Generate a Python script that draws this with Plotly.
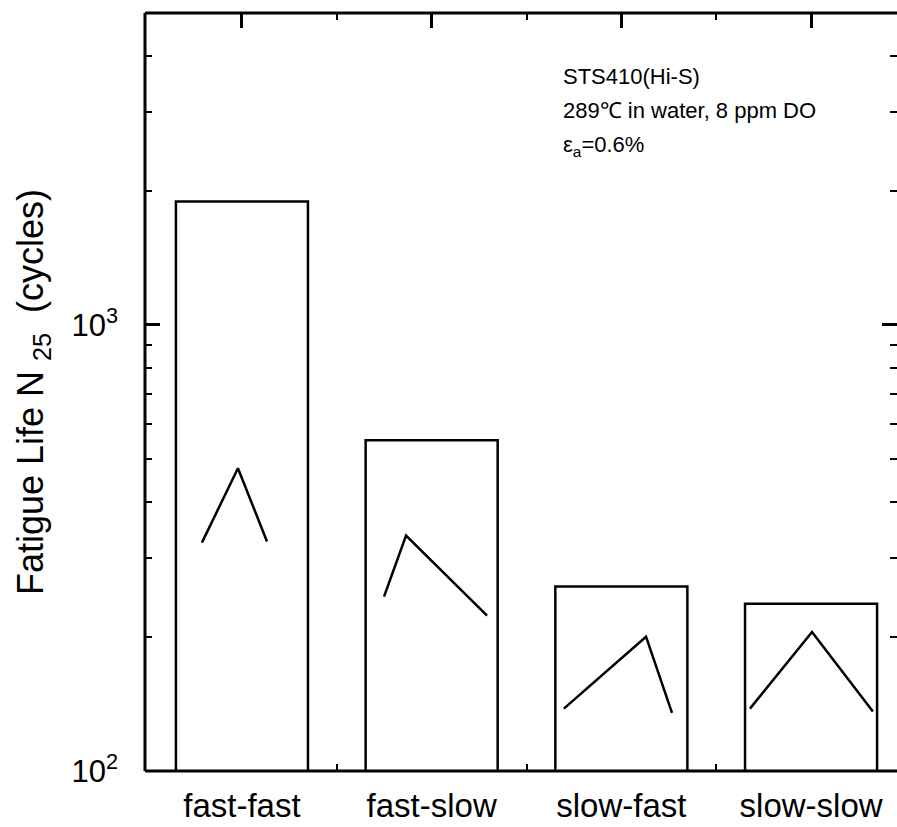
import plotly.graph_objects as go

# Fatigue life at 289 °C in water by loading waveform
categories = ["fast-fast", "fast-slow", "slow-fast", "slow-slow"]
fatigue_life = [1890, 551, 259, 237]

# Waveform sketches drawn inside each bar (x in category units, y in cycles)
wave_ff_x = [-0.211, -0.021, 0.132]
wave_ff_y = [325, 477, 327]
wave_fs_x = [0.749, 0.865, 1.292]
wave_fs_y = [246, 337, 223]
wave_sf_x = [1.697, 2.130, 2.267]
wave_sf_y = [138, 200, 135]
wave_ss_x = [2.678, 3.005, 3.326]
wave_ss_y = [138, 205, 136]

y_major = [100, 1000]
y_major_text = ["10<sup>2</sup>", "10<sup>3</sup>"]
y_minor = [200, 300, 400, 500, 600, 700, 800, 900, 2000, 3000, 4000, 5000]
x_minor = [0.5, 1.5, 2.5]

note_lines = ["STS410(Hi-S)", "289\u2103 in water, 8 ppm DO", "\u03b5<sub>a</sub>=0.6%"]

FONT = "Liberation Sans, Arial, sans-serif"

fig = go.Figure()

fig.add_trace(go.Bar(
    x=list(range(len(categories))),
    y=fatigue_life,
    width=0.696,
    marker=dict(color="white", line=dict(color="black", width=2.5)),
    showlegend=False,
))

for wx, wy in [(wave_ff_x, wave_ff_y), (wave_fs_x, wave_fs_y),
               (wave_sf_x, wave_sf_y), (wave_ss_x, wave_ss_y)]:
    fig.add_trace(go.Scatter(
        x=wx, y=wy, mode="lines",
        line=dict(color="black", width=2.5),
        showlegend=False, hoverinfo="skip",
    ))

fig.update_xaxes(
    range=[-0.511, 3.453],
    tickvals=list(range(len(categories))),
    ticktext=categories,
    ticks="inside", ticklen=15, tickwidth=2.5, tickcolor="black",
    mirror="ticks", showline=False, showgrid=False, zeroline=False,
    minor=dict(tickvals=x_minor, ticks="inside", ticklen=7, tickwidth=2, tickcolor="black"),
    layer="below traces",
    tickfont=dict(family=FONT, size=33, color="black"),
    ticklabelstandoff=12,
)

fig.update_yaxes(
    type="log",
    range=[2, 3.699],
    tickvals=y_major,
    ticktext=y_major_text,
    ticks="inside", ticklen=15, tickwidth=2.5, tickcolor="black",
    mirror="ticks", showline=False, showgrid=False, zeroline=False,
    minor=dict(tickvals=y_minor, ticks="inside", ticklen=7, tickwidth=2, tickcolor="black"),
    tickfont=dict(family=FONT, size=31, color="black"),
    ticklabelstandoff=26,
    title=dict(
        text="Fatigue Life N <sub>25</sub>\u00a0\u00a0(cycles)",
        font=dict(family=FONT, size=36, color="black"),
        standoff=16,
    ),
)

# Frame: left, top and bottom edges of the plotting area
for x0, y0, x1, y1 in [(0, 0, 0, 1), (0, 1, 1, 1), (0, 0, 1, 0)]:
    fig.add_shape(type="line", xref="paper", yref="paper",
                  x0=x0, y0=y0, x1=x1, y1=y1,
                  line=dict(color="black", width=3), layer="above")

for i, line in enumerate(note_lines):
    fig.add_annotation(
        xref="paper", yref="paper",
        x=(561 - 145) / 752, y=1 - (76 + 35 * i - 13) / 758,
        xanchor="left", yanchor="middle",
        text=line, showarrow=False,
        font=dict(family=FONT, size=22, color="black"),
    )

fig.update_layout(
    width=897, height=827,
    margin=dict(l=145, r=0, t=13, b=56),
    paper_bgcolor="white", plot_bgcolor="white",
    bargap=0.3,
)

fig.write_html("out.html")
